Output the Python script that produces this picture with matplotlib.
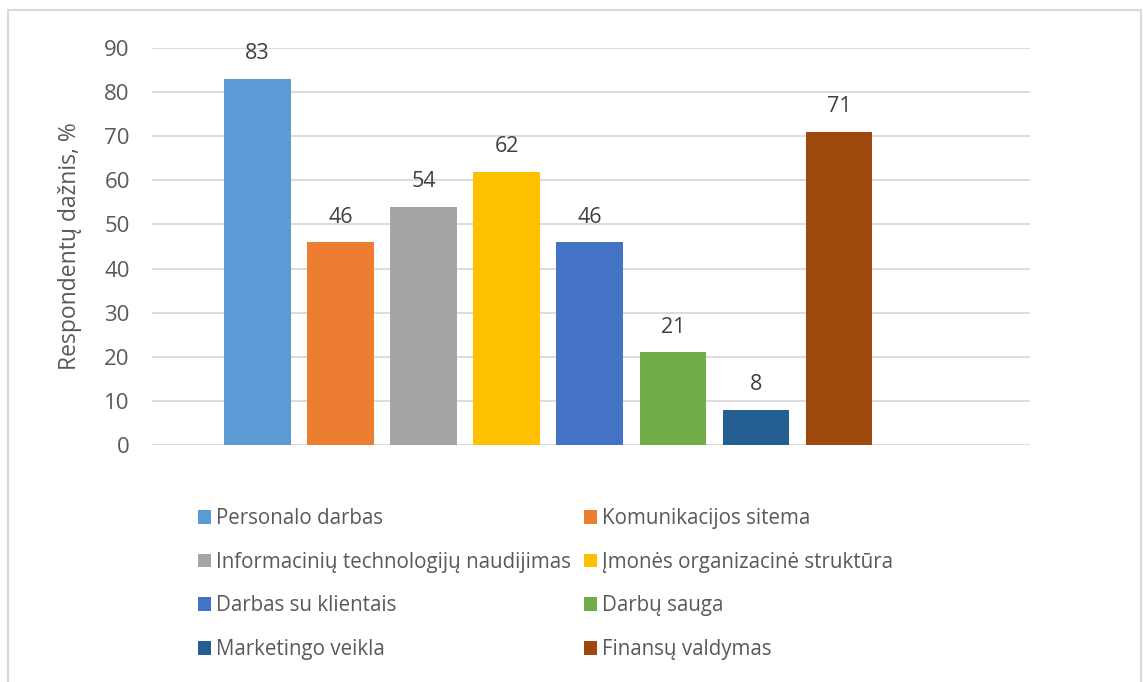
import matplotlib
matplotlib.use("Agg")
import matplotlib.pyplot as plt
from matplotlib.patches import Rectangle

plt.rcParams["font.family"] = ["Open Sans", "DejaVu Sans"]
TXT = "#595959"; GRID = "#d9d9d9"

kategorijos = ["Personalo darbas", "Komunikacijos sitema", "Informacinių technologijų naudijimas",
               "Įmonės organizacinė struktūra", "Darbas su klientais", "Darbų sauga",
               "Marketingo veikla", "Finansų valdymas"]
reiksmes = [83, 46, 54, 62, 46, 21, 8, 71]
spalvos = ["#5B9BD5", "#ED7D31", "#A5A5A5", "#FFC000", "#4472C4", "#70AD47", "#255E91", "#9E480E"]
y_ticks = [0, 10, 20, 30, 40, 50, 60, 70, 80, 90]

fig = plt.figure(figsize=(11.43, 6.82), dpi=100)
# chart area frame
fig.patches.append(Rectangle((0.007, -0.01), 0.991, 0.996, transform=fig.transFigure,
                             fill=False, edgecolor=GRID, lw=1.5))
ax = fig.add_axes([0.1330, 0.3475, 0.768, 0.582])

bars = []
for i, (k, v, c) in enumerate(zip(kategorijos, reiksmes, spalvos)):
    b = ax.bar(i, v, width=0.8, color=c, label=k, zorder=2)
    bars.append(b)
    ax.annotate(str(v), (i, v), textcoords="offset points", xytext=(0, 10.5), ha="center",
                va="bottom", fontsize=15.5, color="#404040")

ax.set_ylim(0, 90); ax.set_xlim(-1.27, 9.3)
ax.set_yticks(y_ticks)
ax.set_xticks([])
ax.tick_params(axis="y", length=0, labelsize=16, labelcolor=TXT, pad=16)
ax.grid(axis="y", color=GRID, lw=1.3, zorder=0)
for s in ax.spines.values():
    s.set_visible(False)
ax.set_ylabel("Respondentų dažnis, %", fontsize=16.5, color=TXT, labelpad=16)

# two-column legend, filled row by row
order = [0, 2, 4, 6, 1, 3, 5, 7]
leg = fig.legend([bars[i] for i in order], [kategorijos[i] for i in order], ncol=2,
                 loc="upper left", bbox_to_anchor=(0.166, 0.267), frameon=False,
                 fontsize=14.8, labelcolor=TXT, handlelength=0.65, handleheight=0.65,
                 handletextpad=0.25, columnspacing=0.6, labelspacing=1.1, borderaxespad=0)

fig.savefig("out.png", dpi=100)
